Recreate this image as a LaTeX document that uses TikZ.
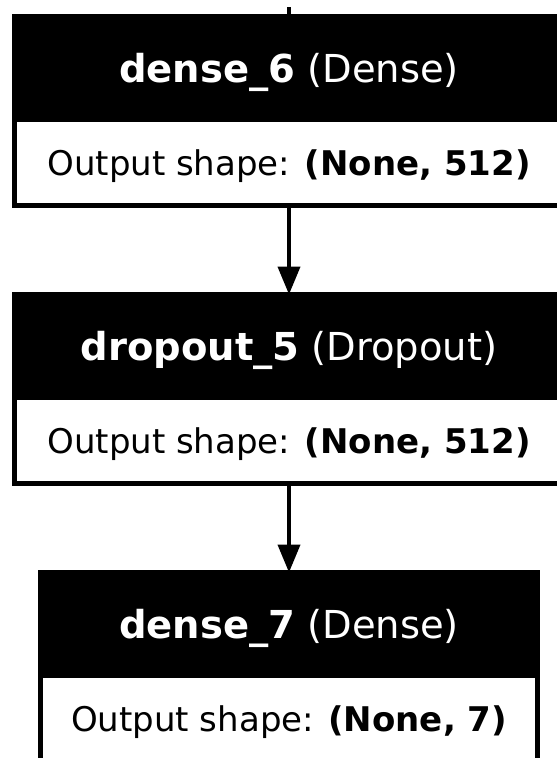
\documentclass[tikz,border=0pt]{standalone}
\usepackage{fontspec}
\setmainfont{DejaVu Sans}
\usetikzlibrary{arrows.meta,positioning}

\tikzset{
  layerhead/.style={draw, fill=black, text=white, line width=5pt, outer sep=0pt,
    inner sep=0pt, text depth=0pt, minimum height=102.5pt, font=\fontsize{38.5}{44}\selectfont},
  layerbody/.style={draw, fill=white, line width=5pt, outer sep=0pt,
    inner sep=0pt, text depth=0pt, minimum height=86.5pt, font=\fontsize{34}{40}\selectfont},
  flow/.style={-{Triangle[length=28pt,width=22pt]}, line width=4pt},
}

\begin{document}
\begin{tikzpicture}[x=1pt,y=-1pt]
\clip (0,0) rectangle (557,758);
\fill[white] (0,0) rectangle (557,758);
\coordinate (in) at (289,7);
 % dense_6
 \node[layerhead, minimum width=549pt] (h6) at (289,67.75) {\textbf{dense\_6} (Dense)};
 \node[layerbody, minimum width=549pt, below=0pt of h6] (b6) {Output shape: \textbf{(None, 512)}};
 % dropout_5
 \node[layerhead, minimum width=549pt] (h5) at (289,345.75) {\textbf{dropout\_5} (Dropout)};
 \node[layerbody, minimum width=549pt, below=0pt of h5] (b5) {Output shape: \textbf{(None, 512)}};
 % dense_7
 \node[layerhead, minimum width=497pt] (h7) at (289,623.75) {\textbf{dense\_7} (Dense)};
 \node[layerbody, minimum width=497pt, below=0pt of h7] (b7) {Output shape: \textbf{(None, 7)}};
  \draw[line width=4pt] (in) -- (h6);
  \draw[flow] (b6) -- (h5);
  \draw[flow] (b5) -- (h7);
\end{tikzpicture}
\end{document}
